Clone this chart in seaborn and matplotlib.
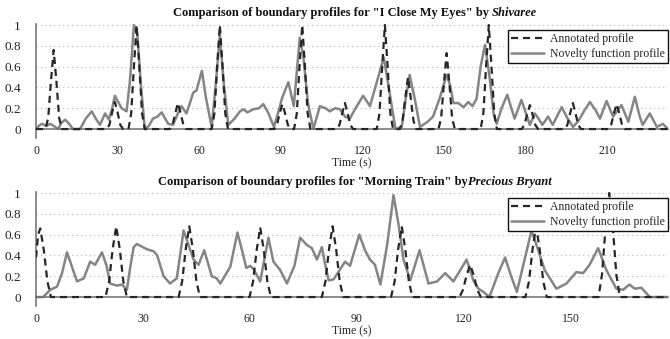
import numpy as np
import pandas as pd
import matplotlib
matplotlib.use("Agg")
import matplotlib.pyplot as plt
import seaborn as sns

# ---------------- data ----------------
top_title_main = 'Comparison of boundary profiles for "I Close My Eyes" by '
top_title_artist = 'Shivaree'
bot_title_main = 'Comparison of boundary profiles for "Morning Train" by'
bot_title_artist = 'Precious Bryant'

top_ann_t = [0, 3.5, 4.5, 5.5, 6.5, 7.5, 8.5, 9.5,
             26, 27, 28, 29, 30, 31, 32,
             34, 35, 36, 37, 38, 39, 40,
             49.2, 50.2, 51.2, 52.2, 53.2, 54.2, 55.2,
             64.6, 65.6, 66.6, 67.6, 68.6, 69.6, 70.6,
             87.6, 88.6, 89.6, 90.6, 91.6, 92.6, 93.6,
             94.9, 95.9, 96.9, 97.9, 98.9, 99.9, 100.9,
             110.6, 111.6, 112.6, 113.6, 114.6, 115.6, 116.6,
             125.3, 126.3, 127.3, 128.3, 129.3, 130.3, 131.3,
             133.8, 134.8, 135.8, 136.8, 137.8, 138.8, 139.8,
             148, 149, 150, 151, 152, 153, 154,
             163.5, 164.5, 165.5, 166.5, 167.5, 168.5, 169.5,
             178.6, 179.6, 180.6, 181.6, 182.6, 183.6, 184.6,
             194.4, 195.4, 196.4, 197.4, 198.4, 199.4, 200.4,
             210.5, 211.5, 212.5, 213.5, 214.5, 215.5, 216.5,
             232.4]
top_ann_v = [0, 0, 0.11, 0.46, 0.76, 0.46, 0.11, 0,
             0, 0.04, 0.16, 0.26, 0.16, 0.04, 0,
             0, 0.15, 0.6, 1.0, 0.6, 0.15, 0,
             0, 0.04, 0.15, 0.25, 0.15, 0.04, 0,
             0, 0.15, 0.6, 1.0, 0.6, 0.15, 0,
             0, 0.04, 0.15, 0.24, 0.15, 0.04, 0,
             0, 0.15, 0.6, 1.0, 0.6, 0.15, 0,
             0, 0.04, 0.15, 0.25, 0.15, 0.04, 0,
             0, 0.15, 0.6, 1.0, 0.6, 0.15, 0,
             0, 0.08, 0.3, 0.5, 0.3, 0.08, 0,
             0, 0.11, 0.44, 0.73, 0.44, 0.11, 0,
             0, 0.15, 0.6, 1.0, 0.6, 0.15, 0,
             0, 0.04, 0.14, 0.23, 0.14, 0.04, 0,
             0, 0.04, 0.15, 0.25, 0.15, 0.04, 0,
             0, 0.04, 0.15, 0.24, 0.15, 0.04, 0,
             0]

top_nov_t = [0, 1, 2.2, 3.8, 5.2, 6.5, 8.2, 9.3, 10.7, 12.2, 13.6, 16.2, 18.3, 20.5,
             22, 23.5, 25.4, 26.8, 28, 29, 30.2, 31.5, 33.3, 34.5, 36, 37.3, 38.5,
             40, 41.5, 43, 44.7, 46.2, 47.5, 48.6, 50.4, 52, 53.5, 55.3, 56.6, 57.8,
             59, 61, 62.5, 64.6, 66, 67.6, 69, 70.7, 73, 75, 76.4, 77.7, 79.9, 82,
             83.6, 85.5, 87.5, 89.5, 90.5, 92.8, 94.8, 97, 98.3, 100, 102, 104.4,
             106.5, 108, 110, 111.8, 113.6, 115.4, 117.5, 120.3, 122.8, 125.3,
             127.9, 130, 132.2, 134.5, 136, 137.4, 139.2, 141.2, 144, 146, 148.5,
             151, 152.3, 153.5, 155.3, 157.2, 159, 160.5, 162, 163.5, 165.1, 166.8,
             168.3, 169.4, 171.2, 173.3, 174.8, 176, 178.5, 180.2, 181.6, 183.4,
             184.8, 186.2, 188.3, 190, 193.3, 195.5, 197.5, 199.5, 201.7, 203.7,
             205.8, 207.4, 209.8, 212.2, 215.3, 217.8, 220.2, 222, 223.1, 225.7,
             228.3, 230.5, 232.4]
top_nov_v = [0, 0.03, 0.05, 0.03, 0.05, 0.03, 0.0, 0.06, 0.09, 0.05, 0.0, 0.0, 0.1, 0.17,
             0.1, 0.04, 0.15, 0.09, 0.2, 0.32, 0.26, 0.2, 0.17, 0.45, 1.0, 0.9, 0.45,
             0.0, 0.03, 0.1, 0.12, 0.16, 0.1, 0.05, 0.04, 0.14, 0.22, 0.15, 0.25, 0.35,
             0.37, 0.56, 0.3, 0.02, 0.4, 0.9, 0.45, 0.04, 0.1, 0.17, 0.19, 0.16, 0.19, 0.2,
             0.24, 0.15, 0.02, 0.2, 0.3, 0.45, 0.22, 0.88, 0.7, 0.25, 0.0, 0.22,
             0.2, 0.17, 0.2, 0.19, 0.12, 0.1, 0.2, 0.32, 0.22, 0.45,
             0.69, 0.35, 0.0, 0.02, 0.3, 0.52, 0.3, 0.02, 0.07, 0.12, 0.3,
             0.52, 0.42, 0.25, 0.25, 0.21, 0.26, 0.22, 0.29, 0.6, 0.81, 0.5,
             0.14, 0.05, 0.2, 0.33, 0.2, 0.1, 0.28, 0.15, 0.04, 0.15,
             0.1, 0.04, 0.12, 0.04, 0.21, 0.1, 0.02, 0.08, 0.18, 0.26,
             0.18, 0.1, 0.27, 0.12, 0.23, 0.07, 0.31, 0.12, 0.04, 0.15,
             0.02, 0.05, 0.0]

bot_ann_t = [0, 0.6, 1.2, 2.2, 3.2, 4.2,
             19.5, 20.5, 21.5, 22.5, 23.5, 24.5, 25.5,
             40, 41, 42, 43, 44, 45, 46,
             59.9, 60.9, 61.9, 62.9, 63.9, 64.9, 65.9,
             80.2, 81.2, 82.2, 83.2, 84.2, 85.2, 86.2,
             99.6, 100.6, 101.6, 102.6, 103.6, 104.6, 105.6,
             118.8, 119.8, 120.8, 121.8, 122.8, 123.8, 124.8,
             137.3, 138.3, 139.3, 140.3, 141.3, 142.3, 143.3,
             157.8, 158.8, 159.8, 160.8, 161.8, 162.8, 163.8,
             177.3]
bot_ann_v = [0.38, 0.6, 0.66, 0.45, 0.15, 0,
             0, 0.15, 0.46, 0.68, 0.46, 0.15, 0,
             0, 0.15, 0.46, 0.68, 0.46, 0.15, 0,
             0, 0.15, 0.45, 0.67, 0.45, 0.15, 0,
             0, 0.15, 0.46, 0.68, 0.46, 0.15, 0,
             0, 0.15, 0.46, 0.68, 0.46, 0.15, 0,
             0, 0.07, 0.21, 0.31, 0.21, 0.07, 0,
             0, 0.15, 0.46, 0.68, 0.46, 0.15, 0,
             0, 0.22, 0.68, 1.0, 0.68, 0.22, 0,
             0]

bot_nov_t = [0, 2, 4, 5.9, 7.3, 8.7, 10, 11.5, 13.4, 15.2, 16.6, 18.5, 19.8, 20.8,
             22.7, 24.1, 25.5, 26.5, 27.4, 28.3, 31.1, 33, 34, 35.8, 37.6, 39.5, 41.4,
             42.8, 44.2, 45.6, 47.2, 48.3, 49.3, 50.7, 51.7, 54.5, 56.5, 57.8, 59,
             60.1, 61, 62.9, 65.2, 66.6, 68.5, 70.4, 72.5, 74.1, 76, 77.4, 78.8, 80.2,
             81.2, 82.1, 83.5, 85, 86.7, 88.1, 90.7, 92.3, 93.7, 95.1, 96.6, 98.5,
             100.3, 101.7, 103.1, 105, 107.6, 110.1, 112.5, 114.8, 117.1, 120.8,
             122.7, 124.1, 125.5, 127.2, 129.7, 131.6, 133.3, 134.9, 137, 139, 140.9,
             142.7, 146, 148.8, 151.6, 153.5, 155.3, 157.7, 160, 162.8, 164.7, 166.5,
             168, 169.8, 172.2, 177.3]
bot_nov_v = [0, 0, 0.07, 0.1, 0.23, 0.43, 0.3, 0.15, 0.18, 0.34, 0.31, 0.43, 0.3, 0.13,
             0.11, 0.12, 0.07, 0.3, 0.48, 0.51, 0.46, 0.44, 0.4, 0.2, 0.13, 0.18, 0.64,
             0.5, 0.36, 0.31, 0.45, 0.32, 0.2, 0.18, 0.13, 0.29, 0.62, 0.45, 0.28,
             0.3, 0.27, 0.15, 0.57, 0.34, 0.26, 0.13, 0.3, 0.57, 0.5, 0.47, 0.36, 0.48,
             0.3, 0.16, 0.17, 0.25, 0.34, 0.3, 0.6, 0.45, 0.36, 0.31, 0.12, 0.5,
             0.98, 0.7, 0.36, 0.16, 0.45, 0.13, 0.15, 0.23, 0.15, 0.36,
             0.16, 0.08, 0.05, 0.0, 0.23, 0.38, 0.2, 0.05, 0.35, 0.64, 0.45,
             0.26, 0.08, 0.13, 0.24, 0.23, 0.31, 0.47, 0.26, 0.08, 0.07, 0.12,
             0.08, 0.09, 0.0, 0.0]

top_xticks = [0, 30, 60, 90, 120, 150, 180, 210]
bot_xticks = [0, 30, 60, 90, 120, 150]
yticks = [0, 0.2, 0.4, 0.6, 0.8, 1.0]
ytick_labels = ["0", "0.2", "0.4", "0.6", "0.8", "1"]
top_xmax = 232.4
bot_xmax = 177.3

# ---------------- style ----------------
sns.set_theme(style="white")
plt.rcParams["font.family"] = ["Liberation Serif", "DejaVu Serif"]

W, H, DPI = 670, 339, 100
fig = plt.figure(figsize=(W / DPI, H / DPI), dpi=DPI)

axis_col = "#6e6e6e"
ann_col = "#262626"
nov_col = "#858585"


def make_axes(rect, ann_t, ann_v, nov_t, nov_v, xticks, xmax):
    ax = fig.add_axes(rect)
    ann = pd.DataFrame({"t": ann_t, "v": ann_v})
    nov = pd.DataFrame({"t": nov_t, "v": nov_v})
    sns.lineplot(data=ann, x="t", y="v", ax=ax, color=ann_col, lw=1.6,
                 linestyle=(0, (3.2, 2.2)), label="Annotated profile",
                 zorder=3)
    sns.lineplot(data=nov, x="t", y="v", ax=ax, color=nov_col, lw=1.8,
                 label="Novelty function profile", zorder=2,
                 solid_joinstyle="round")
    ax.set_xlim(0, xmax)
    ax.set_ylim(-0.09, 1.01)
    ax.set_xticks(xticks)
    ax.set_xticklabels([str(x) for x in xticks])
    ax.set_yticks(yticks)
    ax.set_yticklabels(ytick_labels)
    ax.set_ylabel("")
    ax.set_xlabel("Time (s)", fontsize=8.5, labelpad=0.5)
    for s in ("top", "right"):
        ax.spines[s].set_visible(False)
    ax.spines["bottom"].set_position(("data", 0))
    for s in ("left", "bottom"):
        ax.spines[s].set_color(axis_col)
        ax.spines[s].set_linewidth(1.1)
    ax.tick_params(axis="both", direction="out", length=6.5, width=1.1,
                   color=axis_col, labelcolor="#222222")
    ax.tick_params(axis="x", pad=5, labelsize=8.5)
    ax.tick_params(axis="y", pad=4.5, labelsize=9.5)
    for y in yticks[1:]:
        ax.axhline(y, color="#b5b5b5", lw=0.8, linestyle=(0, (1, 3)), zorder=0)
    ax.grid(False)
    leg = ax.legend(loc="upper right", bbox_to_anchor=(1.0, 0.948),
                    borderaxespad=0, fontsize=8.5, frameon=True, fancybox=False,
                    handlelength=2.8, handletextpad=0.45, labelspacing=0.2,
                    borderpad=0.3)
    leg.get_frame().set_edgecolor("#111111")
    leg.get_frame().set_linewidth(1.0)
    leg.get_frame().set_facecolor("white")
    leg.get_frame().set_alpha(1.0)
    return ax


ax1 = make_axes([36 / W, 1 - 138.4 / H, 632 / W, 114.4 / H],
                top_ann_t, top_ann_v, top_nov_t, top_nov_v, top_xticks, top_xmax)
ax2 = make_axes([36 / W, 1 - 306.4 / H, 632 / W, 114.4 / H],
                bot_ann_t, bot_ann_v, bot_nov_t, bot_nov_v, bot_xticks, bot_xmax)


def two_part_title(y_px, part1, part2, cx_px=355):
    y = 1 - y_px / H
    t1 = fig.text(0, y, part1, fontsize=9, fontweight="bold", ha="left",
                  va="center", color="#111111")
    t2 = fig.text(0, y, part2, fontsize=9, fontweight="bold", style="italic",
                  ha="left", va="center", color="#111111")
    fig.canvas.draw()
    r = fig.canvas.get_renderer()
    w1 = t1.get_window_extent(r).width
    w2 = t2.get_window_extent(r).width
    x0 = cx_px - (w1 + w2) / 2
    t1.set_x(x0 / W)
    t2.set_x((x0 + w1) / W)


two_part_title(13, top_title_main, top_title_artist)
two_part_title(181.5, bot_title_main, bot_title_artist)

fig.savefig("out.png", dpi=DPI)
